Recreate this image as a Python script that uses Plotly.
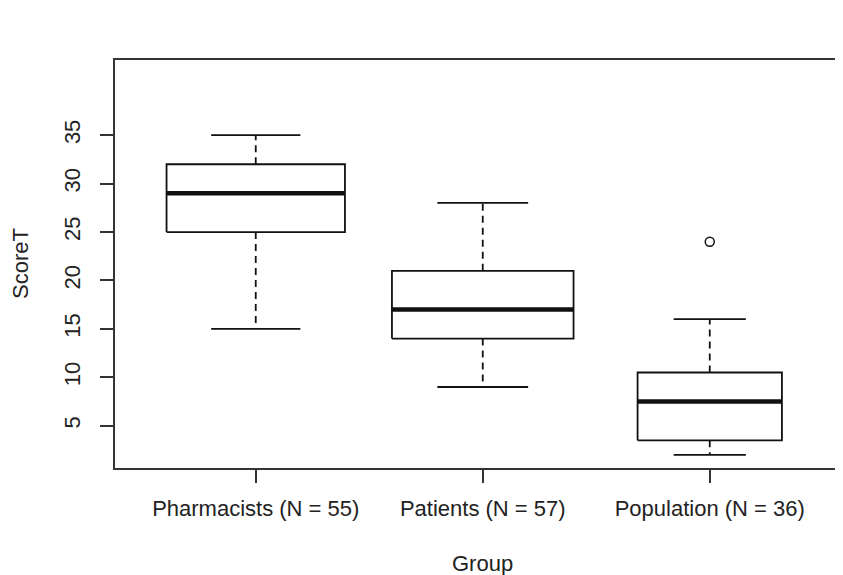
import numpy as np
import plotly.graph_objects as go

# ---- data ----
groups = ["Pharmacists (N = 55)", "Patients (N = 57)", "Population (N = 36)"]
group_n = [55, 57, 36]
lower_whisker = [15, 9, 2]
q1 = [25, 14, 3.5]
median = [29, 17, 7.5]
q3 = [32, 21, 10.5]
upper_whisker = [35, 28, 16]
outliers = [[], [], [24]]
y_ticks = [5, 10, 15, 20, 25, 30, 35]

FONT = "Liberation Sans, Arial, sans-serif"
BLACK = "#111111"
FS = 22

fig = go.Figure()
max_n = max(group_n)
for i, g in enumerate(groups):
    x = i + 1
    w = 0.8 * np.sqrt(group_n[i] / max_n)  # varwidth boxes
    hw = w / 2
    sw = w / 4
    # box
    fig.add_trace(go.Scatter(
        x=[x - hw, x + hw, x + hw, x - hw, x - hw],
        y=[q1[i], q1[i], q3[i], q3[i], q1[i]],
        mode="lines", line=dict(color=BLACK, width=1.8),
        showlegend=False, hoverinfo="skip"))
    # median
    fig.add_trace(go.Scatter(
        x=[x - hw, x + hw], y=[median[i], median[i]],
        mode="lines", line=dict(color=BLACK, width=4.5),
        showlegend=False, hoverinfo="skip"))
    # whiskers (dashed)
    fig.add_trace(go.Scatter(
        x=[x, x, None, x, x],
        y=[q3[i], upper_whisker[i], None, q1[i], lower_whisker[i]],
        mode="lines", line=dict(color=BLACK, width=1.8, dash="7px,5px"),
        showlegend=False, hoverinfo="skip"))
    # staples
    fig.add_trace(go.Scatter(
        x=[x - sw, x + sw, None, x - sw, x + sw],
        y=[upper_whisker[i], upper_whisker[i], None, lower_whisker[i], lower_whisker[i]],
        mode="lines", line=dict(color=BLACK, width=1.8),
        showlegend=False, hoverinfo="skip"))
    # outliers
    if outliers[i]:
        fig.add_trace(go.Scatter(
            x=[x] * len(outliers[i]), y=outliers[i], mode="markers",
            marker=dict(symbol="circle-open", size=9, color=BLACK,
                        line=dict(width=1.5, color=BLACK)),
            showlegend=False, hoverinfo="skip"))

fig.update_layout(
    width=835, height=567,
    margin=dict(l=107, r=0, t=52, b=107),
    paper_bgcolor="white", plot_bgcolor="white",
    font=dict(family=FONT, size=FS, color="#222222"),
    xaxis=dict(
        range=[0.38, 3.587], tickmode="array", tickvals=[1, 2, 3], ticktext=groups,
        showgrid=False, zeroline=False, showline=True, mirror=True,
        linecolor="#333333", linewidth=1.5,
        ticks="outside", ticklen=13, tickwidth=1.5, tickcolor="#333333",
        ticklabelstandoff=7,
        tickfont=dict(family=FONT, size=FS, color="#222222"),
    ),
    yaxis=dict(
        range=[0.64, 42.76], tickmode="array", tickvals=y_ticks,
        showgrid=False, zeroline=False, showline=True, mirror=False,
        linecolor="#333333", linewidth=1.5,
        ticks="outside", ticklen=13, tickwidth=1.5, tickcolor="#333333",
        tickangle=-90, ticklabelstandoff=11,
        tickfont=dict(family=FONT, size=FS, color="#222222"),
    ),
    annotations=[
        dict(text="Group", xref="paper", yref="paper", x=0.505, y=0,
             xanchor="center", yanchor="middle", yshift=-95, showarrow=False,
             font=dict(family=FONT, size=FS, color="#222222")),
        dict(text="ScoreT", xref="paper", yref="paper", x=0, y=0.5,
             xanchor="center", yanchor="middle", xshift=-95, textangle=-90,
             showarrow=False, font=dict(family=FONT, size=FS, color="#222222")),
    ],
)

fig.write_html("out.html")
